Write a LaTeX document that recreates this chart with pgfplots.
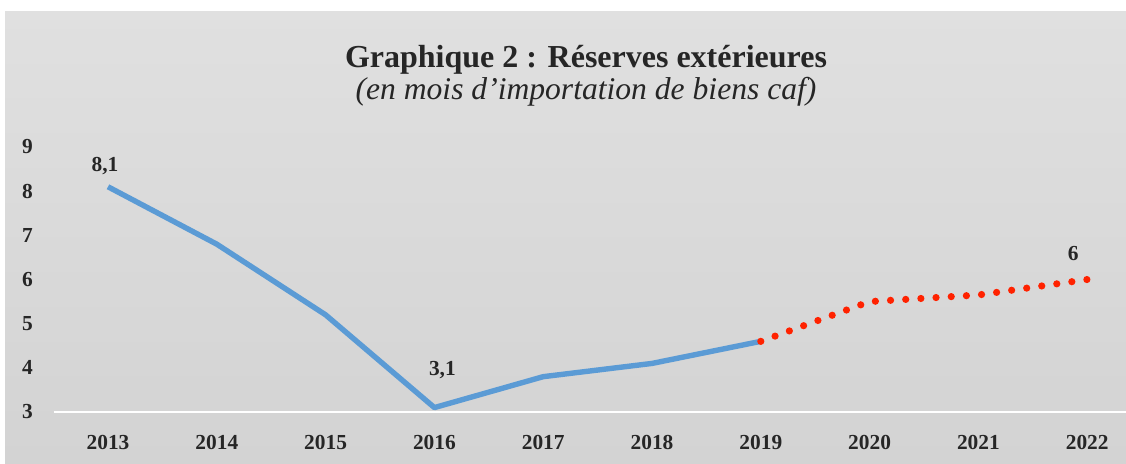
\documentclass[border=0pt]{standalone}
\usepackage{pgfplots}
\pgfplotsset{compat=1.18}
\usepackage{fontspec}
\setmainfont{Liberation Serif}
\definecolor{bgtop}{HTML}{E0E0E0}
\definecolor{bgbot}{HTML}{D3D3D3}
\definecolor{lineblue}{HTML}{5B9BD5}
\definecolor{dotred}{HTML}{FF2200}
\definecolor{txt}{HTML}{262626}

\begin{document}
\begin{tikzpicture}
\useasboundingbox (0,0) rectangle (563pt,231.5pt);
\fill[white] (0,0) rectangle (563pt,231.5pt);
\shade[top color=bgtop, bottom color=bgbot] (2.5pt,0) rectangle (563pt,226pt);

\node[anchor=base, font=\fontsize{16}{19}\selectfont\bfseries, text=txt, inner sep=0pt]
  at (293pt,198pt) {Graphique 2 : Réserves extérieures};
\node[anchor=base, font=\fontsize{15.8}{19}\selectfont\itshape, text=txt, inner sep=0pt]
  at (293pt,182pt) {(en mois d’importation de biens caf)};

\begin{axis}[
    at={(26.8pt,25.5pt)}, anchor=south west,
    scale only axis,
    width=544pt, height=132.5pt,
    xmin=-0.5, xmax=9.5,
    ymin=3, ymax=9,
    xtick={0,...,9},
    xticklabels={2013,2014,2015,2016,2017,2018,2019,2020,2021,2022},
    ytick={3,...,9},
    axis x line*=bottom,
    axis y line=none,
    x axis line style={white, line width=0.6pt, -},
    major tick length=0pt,
    ticklabel style={font=\fontsize{10.7}{12}\selectfont\bfseries, text=txt},
    xticklabel style={yshift=-8pt},
    clip=false,
]
\addplot[lineblue, line width=2.7pt, line join=round] coordinates {
  (0,8.1) (1,6.8) (2,5.2) (3,3.1) (4,3.8) (5,4.1) (6,4.6)
};
\addplot[dotred, line width=3.6pt, line cap=round, dash pattern=on 0pt off 7.6pt] coordinates {
  (6,4.6) (7,5.5) (8,5.65) (9,6.0)
};
\addplot[draw=none, nodes near coords, point meta=explicit symbolic,
  nodes near coords style={anchor=base, font=\fontsize{10.7}{12}\selectfont\bfseries, text=txt, yshift=7.5pt, xshift=-1.5pt}]
  coordinates {(0,8.1) [8,1]};
\addplot[draw=none, nodes near coords, point meta=explicit symbolic,
  nodes near coords style={anchor=base, font=\fontsize{10.7}{12}\selectfont\bfseries, text=txt, yshift=16pt, xshift=4pt}]
  coordinates {(3,3.1) [3,1]};
\addplot[draw=none, nodes near coords, point meta=explicit symbolic,
  nodes near coords style={anchor=base, font=\fontsize{10.7}{12}\selectfont\bfseries, text=txt, yshift=9.5pt, xshift=-7pt}]
  coordinates {(9,6.0) [6]};
\end{axis}

\begin{axis}[
    at={(26.8pt,25.5pt)}, anchor=south west,
    scale only axis,
    width=544pt, height=132.5pt,
    xmin=-0.5, xmax=9.5,
    ymin=3, ymax=9,
    ytick={3,...,9},
    xtick=\empty,
    axis x line=none,
    axis y line*=left,
    y axis line style={draw=none},
    major tick length=0pt,
    yticklabel style={font=\fontsize{10.7}{12}\selectfont\bfseries, text=txt, anchor=center, xshift=-13pt},
    /pgf/number format/assume math mode=true,
]
\end{axis}
\end{tikzpicture}
\end{document}
